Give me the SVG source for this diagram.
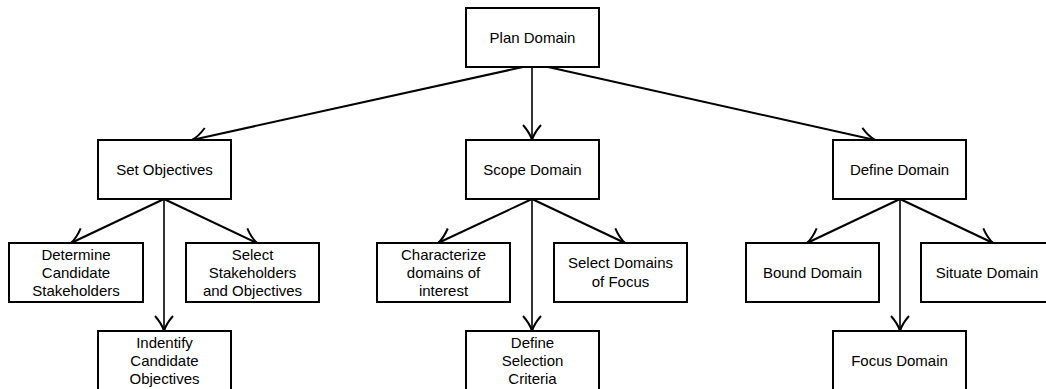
<svg xmlns="http://www.w3.org/2000/svg" width="1046" height="389" viewBox="0 0 1046 389">
<style>
.box{fill:#fff;stroke:#000;stroke-width:2}
.t{font-family:"Liberation Sans",Arial,sans-serif;font-size:15px;fill:#000;text-anchor:middle}
.e{stroke:#000;stroke-width:2;fill:none;marker-end:url(#arr)}
.v{stroke-width:1.6}
</style>
<defs>
<marker id="arr" markerUnits="userSpaceOnUse" markerWidth="20" markerHeight="20" viewBox="-16 -10 18 20" refX="0" refY="0" orient="auto" overflow="visible">
<path d="M-15,-9 Q-7,-2 0,0 Q-7,2 -15,9" fill="none" stroke="#000" stroke-width="2"/>
</marker>
</defs>
<g id="connectors">
<line class="e" x1="523" y1="67" x2="192" y2="140"/>
<line class="e v" x1="532" y1="67" x2="532" y2="140"/>
<line class="e" x1="548" y1="67" x2="875" y2="140"/>
<line class="e" x1="164" y1="199" x2="71" y2="243"/>
<line class="e v" x1="164" y1="199" x2="164" y2="331"/>
<line class="e" x1="164" y1="199" x2="257" y2="243"/>
<line class="e" x1="532" y1="199" x2="438" y2="243"/>
<line class="e v" x1="532" y1="199" x2="532" y2="331"/>
<line class="e" x1="532" y1="199" x2="625" y2="243"/>
<line class="e" x1="900" y1="199" x2="807" y2="243"/>
<line class="e v" x1="900" y1="199" x2="900" y2="331"/>
<line class="e" x1="900" y1="199" x2="993" y2="243"/>
</g>
<g id="plan-domain"><rect class="box" x="466" y="8" width="133" height="59"/><text class="t" x="532.5" y="42.5">Plan Domain</text></g>
<g id="set-objectives"><rect class="box" x="98" y="140" width="133" height="59"/><text class="t" x="164.5" y="174.5">Set Objectives</text></g>
<g id="scope-domain"><rect class="box" x="466" y="140" width="133" height="59"/><text class="t" x="532.5" y="174.5">Scope Domain</text></g>
<g id="define-domain"><rect class="box" x="833" y="140" width="133" height="59"/><text class="t" x="899.5" y="174.5">Define Domain</text></g>
<g id="determine-candidate-stakeholders"><rect class="box" x="9" y="243" width="134" height="59"/><text class="t" x="76" y="259.5">Determine</text><text class="t" x="76" y="277.5">Candidate</text><text class="t" x="76" y="295.5">Stakeholders</text></g>
<g id="select-stakeholders"><rect class="box" x="186" y="243" width="133" height="59"/><text class="t" x="252.5" y="259.5">Select</text><text class="t" x="252.5" y="277.5">Stakeholders</text><text class="t" x="252.5" y="295.5">and Objectives</text></g>
<g id="identify-candidate-objectives"><rect class="box" x="98" y="331" width="133" height="59"/><text class="t" x="164.5" y="347.5">Indentify</text><text class="t" x="164.5" y="365.5">Candidate</text><text class="t" x="164.5" y="383.5">Objectives</text></g>
<g id="characterize-domains"><rect class="box" x="377" y="243" width="133" height="59"/><text class="t" x="443.5" y="259.5">Characterize</text><text class="t" x="443.5" y="277.5">domains of</text><text class="t" x="443.5" y="295.5">interest</text></g>
<g id="select-domains-of-focus"><rect class="box" x="554" y="243" width="133" height="59"/><text class="t" x="620.5" y="268">Select Domains</text><text class="t" x="620.5" y="286.5">of Focus</text></g>
<g id="define-selection-criteria"><rect class="box" x="466" y="331" width="133" height="59"/><text class="t" x="532.5" y="347.5">Define</text><text class="t" x="532.5" y="365.5">Selection</text><text class="t" x="532.5" y="383.5">Criteria</text></g>
<g id="bound-domain"><rect class="box" x="746" y="243" width="133" height="59"/><text class="t" x="812.5" y="277.5">Bound Domain</text></g>
<g id="situate-domain"><rect class="box" x="921" y="243" width="133" height="59"/><text class="t" x="987" y="277.5">Situate Domain</text></g>
<g id="focus-domain"><rect class="box" x="833" y="331" width="133" height="59"/><text class="t" x="899.5" y="365.5">Focus Domain</text></g>
</svg>
